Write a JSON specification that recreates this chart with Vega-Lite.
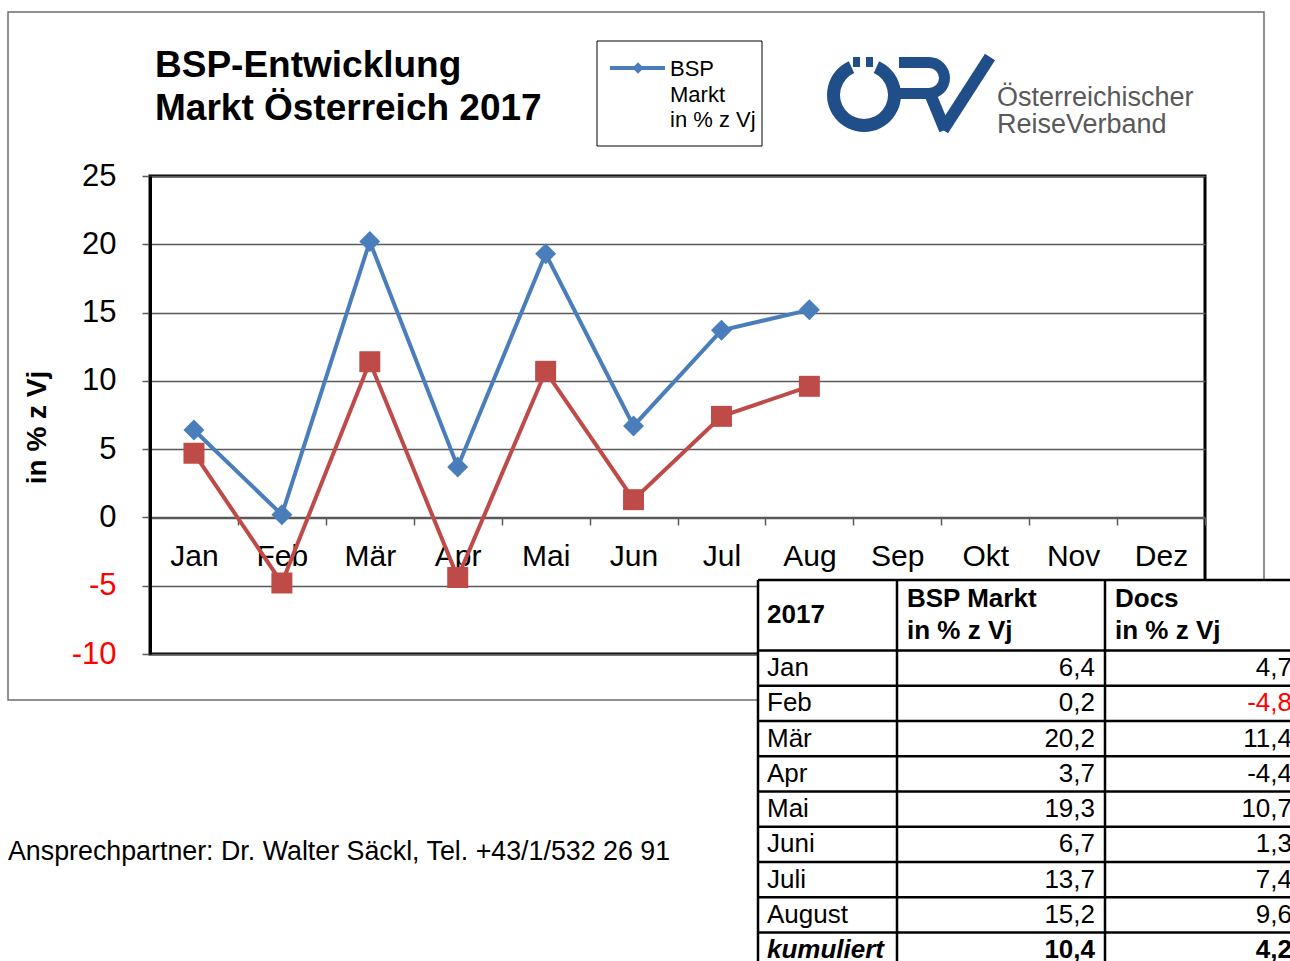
{
  "$schema": "https://vega.github.io/schema/vega-lite/v6.json",
  "autosize": "none",
  "width": 1055,
  "height": 478,
  "padding": {"left": 150, "top": 176, "right": 85, "bottom": 307},
  "background": "white",
  "config": {
    "font": "Liberation Sans",
    "view": {"stroke": "black", "strokeWidth": 3},
    "locale": {"number": {"decimal": ",", "thousands": ".", "grouping": [3], "currency": ["", " €"], "minus": "-"}}
  },
  "datasets": {
    "werte": [
      {"monat": "Jan", "zeile": "Jan", "bsp": 6.4, "docs": 4.7},
      {"monat": "Feb", "zeile": "Feb", "bsp": 0.2, "docs": -4.8},
      {"monat": "Mär", "zeile": "Mär", "bsp": 20.2, "docs": 11.4},
      {"monat": "Apr", "zeile": "Apr", "bsp": 3.7, "docs": -4.4},
      {"monat": "Mai", "zeile": "Mai", "bsp": 19.3, "docs": 10.7},
      {"monat": "Jun", "zeile": "Juni", "bsp": 6.7, "docs": 1.3},
      {"monat": "Jul", "zeile": "Juli", "bsp": 13.7, "docs": 7.4},
      {"monat": "Aug", "zeile": "August", "bsp": 15.2, "docs": 9.6},
      {"monat": null, "zeile": "kumuliert", "bsp": 10.4, "docs": 4.2}
    ]
  },
  "layer": [
    {
      "data": {"name": "werte"},
      "transform": [
        {"filter": "datum.monat != null"},
        {"fold": ["bsp", "docs"], "as": ["reihe", "wert"]}
      ],
      "encoding": {
        "x": {"field": "monat", "type": "ordinal",
          "scale": {"type": "band", "domain": ["Jan", "Feb", "Mär", "Apr", "Mai", "Jun", "Jul", "Aug", "Sep", "Okt", "Nov", "Dez"], "paddingInner": 0, "paddingOuter": 0},
          "axis": {"title": null, "offset": -136, "tickBand": "extent", "tickSize": 7, "tickWidth": 1.5, "tickColor": "#595959", "domainColor": "#595959", "domainWidth": 1.5, "labelFontSize": 30, "labelColor": "black", "labelPadding": 16, "labelAngle": 0, "grid": false}},
        "y": {"field": "wert", "type": "quantitative",
          "scale": {"domain": [-10, 25], "nice": false, "zero": false},
          "axis": {"title": "in % z Vj", "values": [-10, -5, 0, 5, 10, 15, 20, 25], "grid": true, "gridColor": "#595959", "gridWidth": 1.5, "domainColor": "black", "domainWidth": 3, "tickColor": "#595959", "tickWidth": 1.5, "tickSize": 8, "labelFontSize": 31, "labelPadding": 26, "labelColor": {"condition": {"test": "datum.value < 0", "value": "#ff0000"}, "value": "black"}, "titleFontSize": 28, "titleFontWeight": "bold", "titleColor": "black", "titleX": -113, "titleY": 251, "titleAngle": -90, "titleAlign": "center", "titleBaseline": "middle"}},
        "color": {"field": "reihe", "type": "nominal", "scale": {"domain": ["bsp", "docs"], "range": ["#4a7ebb", "#be4b48"]}, "legend": null}
      },
      "layer": [
        {"mark": {"type": "line", "strokeWidth": 4}},
        {"mark": {"type": "point", "filled": true, "opacity": 1, "size": 440},
          "encoding": {"shape": {"field": "reihe", "type": "nominal", "scale": {"domain": ["bsp", "docs"], "range": ["diamond", "square"]}, "legend": null}}}
      ]
    },
    {
      "data": {"values": [{}]},
      "layer": [
        {"mark": {"type": "rect", "fillOpacity": 0, "stroke": "#6d6d6d", "strokeWidth": 1.5},
          "encoding": {"x": {"datum": 8, "type": "quantitative", "scale": {"type": "linear", "domain": [0, 1290], "range": [-150, 1140], "nice": false, "zero": false}, "axis": null}, "x2": {"datum": 1264},
            "y": {"datum": 12, "type": "quantitative", "scale": {"type": "linear", "domain": [0, 961], "range": [-176, 785], "nice": false, "zero": false}, "axis": null}, "y2": {"datum": 700}}},
        {"mark": {"type": "rect", "fill": "white", "strokeWidth": 0},
          "encoding": {"x": {"datum": 758, "type": "quantitative", "scale": {"type": "linear", "domain": [0, 1290], "range": [-150, 1140], "nice": false, "zero": false}, "axis": null}, "x2": {"datum": 1300},
            "y": {"datum": 580, "type": "quantitative", "scale": {"type": "linear", "domain": [0, 961], "range": [-176, 785], "nice": false, "zero": false}, "axis": null}, "y2": {"datum": 980}}},
        {"mark": {"type": "text", "text": ["BSP-Entwicklung", "Markt Österreich 2017"], "fontSize": 37, "fontWeight": "bold", "align": "left", "baseline": "alphabetic", "lineHeight": 43, "color": "black"},
          "encoding": {"x": {"datum": 155, "type": "quantitative", "scale": {"type": "linear", "domain": [0, 1290], "range": [-150, 1140], "nice": false, "zero": false}, "axis": null},
            "y": {"datum": 77, "type": "quantitative", "scale": {"type": "linear", "domain": [0, 961], "range": [-176, 785], "nice": false, "zero": false}, "axis": null}}},
        {"mark": {"type": "rect", "fillOpacity": 0, "stroke": "black", "strokeWidth": 1},
          "encoding": {"x": {"datum": 597, "type": "quantitative", "scale": {"type": "linear", "domain": [0, 1290], "range": [-150, 1140], "nice": false, "zero": false}, "axis": null}, "x2": {"datum": 762},
            "y": {"datum": 41, "type": "quantitative", "scale": {"type": "linear", "domain": [0, 961], "range": [-176, 785], "nice": false, "zero": false}, "axis": null}, "y2": {"datum": 146}}},
        {"mark": {"type": "rule", "color": "#4a7ebb", "strokeWidth": 4},
          "encoding": {"x": {"datum": 610, "type": "quantitative", "scale": {"type": "linear", "domain": [0, 1290], "range": [-150, 1140], "nice": false, "zero": false}, "axis": null}, "x2": {"datum": 665},
            "y": {"datum": 68, "type": "quantitative", "scale": {"type": "linear", "domain": [0, 961], "range": [-176, 785], "nice": false, "zero": false}, "axis": null}}},
        {"mark": {"type": "point", "shape": "diamond", "size": 130, "filled": true, "opacity": 1, "color": "#4a7ebb"},
          "encoding": {"x": {"datum": 638, "type": "quantitative", "scale": {"type": "linear", "domain": [0, 1290], "range": [-150, 1140], "nice": false, "zero": false}, "axis": null},
            "y": {"datum": 68, "type": "quantitative", "scale": {"type": "linear", "domain": [0, 961], "range": [-176, 785], "nice": false, "zero": false}, "axis": null}}},
        {"mark": {"type": "text", "text": ["BSP", "Markt", "in % z Vj"], "fontSize": 22, "align": "left", "baseline": "alphabetic", "lineHeight": 25.5, "color": "black"},
          "encoding": {"x": {"datum": 670, "type": "quantitative", "scale": {"type": "linear", "domain": [0, 1290], "range": [-150, 1140], "nice": false, "zero": false}, "axis": null},
            "y": {"datum": 76, "type": "quantitative", "scale": {"type": "linear", "domain": [0, 961], "range": [-176, 785], "nice": false, "zero": false}, "axis": null}}},
        {"mark": {"type": "arc", "radius": 37, "radius2": 24, "theta": 0.42, "theta2": 5.86, "color": "#1f4e89"},
          "encoding": {"x": {"datum": 864, "type": "quantitative", "scale": {"type": "linear", "domain": [0, 1290], "range": [-150, 1140], "nice": false, "zero": false}, "axis": null},
            "y": {"datum": 95, "type": "quantitative", "scale": {"type": "linear", "domain": [0, 961], "range": [-176, 785], "nice": false, "zero": false}, "axis": null}}},
        {"mark": {"type": "rect", "color": "#1f4e89"},
          "encoding": {"x": {"datum": 853, "type": "quantitative", "scale": {"type": "linear", "domain": [0, 1290], "range": [-150, 1140], "nice": false, "zero": false}, "axis": null}, "x2": {"datum": 860},
            "y": {"datum": 57, "type": "quantitative", "scale": {"type": "linear", "domain": [0, 961], "range": [-176, 785], "nice": false, "zero": false}, "axis": null}, "y2": {"datum": 67}}},
        {"mark": {"type": "rect", "color": "#1f4e89"},
          "encoding": {"x": {"datum": 866, "type": "quantitative", "scale": {"type": "linear", "domain": [0, 1290], "range": [-150, 1140], "nice": false, "zero": false}, "axis": null}, "x2": {"datum": 873},
            "y": {"datum": 57, "type": "quantitative", "scale": {"type": "linear", "domain": [0, 961], "range": [-176, 785], "nice": false, "zero": false}, "axis": null}, "y2": {"datum": 67}}},
        {"mark": {"type": "rect", "color": "#1f4e89"},
          "encoding": {"x": {"datum": 899, "type": "quantitative", "scale": {"type": "linear", "domain": [0, 1290], "range": [-150, 1140], "nice": false, "zero": false}, "axis": null}, "x2": {"datum": 929},
            "y": {"datum": 57, "type": "quantitative", "scale": {"type": "linear", "domain": [0, 961], "range": [-176, 785], "nice": false, "zero": false}, "axis": null}, "y2": {"datum": 68}}},
        {"mark": {"type": "rect", "color": "#1f4e89"},
          "encoding": {"x": {"datum": 899, "type": "quantitative", "scale": {"type": "linear", "domain": [0, 1290], "range": [-150, 1140], "nice": false, "zero": false}, "axis": null}, "x2": {"datum": 929},
            "y": {"datum": 88, "type": "quantitative", "scale": {"type": "linear", "domain": [0, 961], "range": [-176, 785], "nice": false, "zero": false}, "axis": null}, "y2": {"datum": 99}}},
        {"mark": {"type": "arc", "radius": 21, "radius2": 10, "theta": 0, "theta2": 3.1416, "color": "#1f4e89"},
          "encoding": {"x": {"datum": 929, "type": "quantitative", "scale": {"type": "linear", "domain": [0, 1290], "range": [-150, 1140], "nice": false, "zero": false}, "axis": null},
            "y": {"datum": 78, "type": "quantitative", "scale": {"type": "linear", "domain": [0, 961], "range": [-176, 785], "nice": false, "zero": false}, "axis": null}}},
        {"mark": {"type": "rule", "color": "#1f4e89", "strokeWidth": 12},
          "encoding": {"x": {"datum": 931, "type": "quantitative", "scale": {"type": "linear", "domain": [0, 1290], "range": [-150, 1140], "nice": false, "zero": false}, "axis": null}, "x2": {"datum": 945},
            "y": {"datum": 96, "type": "quantitative", "scale": {"type": "linear", "domain": [0, 961], "range": [-176, 785], "nice": false, "zero": false}, "axis": null}, "y2": {"datum": 130}}},
        {"mark": {"type": "rule", "color": "#1f4e89", "strokeWidth": 12},
          "encoding": {"x": {"datum": 943, "type": "quantitative", "scale": {"type": "linear", "domain": [0, 1290], "range": [-150, 1140], "nice": false, "zero": false}, "axis": null}, "x2": {"datum": 990},
            "y": {"datum": 130, "type": "quantitative", "scale": {"type": "linear", "domain": [0, 961], "range": [-176, 785], "nice": false, "zero": false}, "axis": null}, "y2": {"datum": 57}}},
        {"mark": {"type": "text", "text": ["Österreichischer", "ReiseVerband"], "fontSize": 27, "align": "left", "baseline": "alphabetic", "lineHeight": 27, "color": "#595959"},
          "encoding": {"x": {"datum": 997, "type": "quantitative", "scale": {"type": "linear", "domain": [0, 1290], "range": [-150, 1140], "nice": false, "zero": false}, "axis": null},
            "y": {"datum": 106, "type": "quantitative", "scale": {"type": "linear", "domain": [0, 961], "range": [-176, 785], "nice": false, "zero": false}, "axis": null}}},
        {"mark": {"type": "text", "text": "Ansprechpartner: Dr. Walter Säckl, Tel. +43/1/532 26 91", "fontSize": 26.8, "align": "left", "baseline": "alphabetic", "color": "black"},
          "encoding": {"x": {"datum": 8, "type": "quantitative", "scale": {"type": "linear", "domain": [0, 1290], "range": [-150, 1140], "nice": false, "zero": false}, "axis": null},
            "y": {"datum": 860, "type": "quantitative", "scale": {"type": "linear", "domain": [0, 961], "range": [-176, 785], "nice": false, "zero": false}, "axis": null}}}
      ]
    },
    {
      "data": {"name": "werte"},
      "layer": [
        {"mark": {"type": "rule", "color": "black", "strokeWidth": 2.5},
          "encoding": {"x": {"datum": 758, "type": "quantitative", "scale": {"type": "linear", "domain": [0, 1290], "range": [-150, 1140], "nice": false, "zero": false}, "axis": null}, "x2": {"datum": 1300},
            "y": {"field": "zeile", "type": "ordinal", "bandPosition": 0, "scale": {"type": "band", "domain": ["H1", "H2", "Jan", "Feb", "Mär", "Apr", "Mai", "Juni", "Juli", "August", "kumuliert", "Ende"], "range": [404, 827], "paddingInner": 0, "paddingOuter": 0}, "axis": null}}},
        {"data": {"values": [{}]},
          "mark": {"type": "rule", "color": "black", "strokeWidth": 2.5},
          "encoding": {"x": {"datum": 758, "type": "quantitative", "scale": {"type": "linear", "domain": [0, 1290], "range": [-150, 1140], "nice": false, "zero": false}, "axis": null}, "x2": {"datum": 1300},
            "y": {"datum": "H1", "type": "ordinal", "bandPosition": 0, "scale": {"type": "band", "domain": ["H1", "H2", "Jan", "Feb", "Mär", "Apr", "Mai", "Juni", "Juli", "August", "kumuliert", "Ende"], "range": [404, 827], "paddingInner": 0, "paddingOuter": 0}, "axis": null}}},
        {"data": {"values": [{}]},
          "mark": {"type": "rule", "color": "black", "strokeWidth": 2.5},
          "encoding": {"x": {"datum": 758, "type": "quantitative", "scale": {"type": "linear", "domain": [0, 1290], "range": [-150, 1140], "nice": false, "zero": false}, "axis": null},
            "y": {"datum": "H1", "type": "ordinal", "bandPosition": 0, "scale": {"type": "band", "domain": ["H1", "H2", "Jan", "Feb", "Mär", "Apr", "Mai", "Juni", "Juli", "August", "kumuliert", "Ende"], "range": [404, 827], "paddingInner": 0, "paddingOuter": 0}, "axis": null}, "y2": {"datum": "Ende"}}},
        {"data": {"values": [{}]},
          "mark": {"type": "rule", "color": "black", "strokeWidth": 2.5},
          "encoding": {"x": {"datum": 897, "type": "quantitative", "scale": {"type": "linear", "domain": [0, 1290], "range": [-150, 1140], "nice": false, "zero": false}, "axis": null},
            "y": {"datum": "H1", "type": "ordinal", "bandPosition": 0, "scale": {"type": "band", "domain": ["H1", "H2", "Jan", "Feb", "Mär", "Apr", "Mai", "Juni", "Juli", "August", "kumuliert", "Ende"], "range": [404, 827], "paddingInner": 0, "paddingOuter": 0}, "axis": null}, "y2": {"datum": "Ende"}}},
        {"data": {"values": [{}]},
          "mark": {"type": "rule", "color": "black", "strokeWidth": 2.5},
          "encoding": {"x": {"datum": 1105, "type": "quantitative", "scale": {"type": "linear", "domain": [0, 1290], "range": [-150, 1140], "nice": false, "zero": false}, "axis": null},
            "y": {"datum": "H1", "type": "ordinal", "bandPosition": 0, "scale": {"type": "band", "domain": ["H1", "H2", "Jan", "Feb", "Mär", "Apr", "Mai", "Juni", "Juli", "August", "kumuliert", "Ende"], "range": [404, 827], "paddingInner": 0, "paddingOuter": 0}, "axis": null}, "y2": {"datum": "Ende"}}},
        {"data": {"values": [{}]},
          "mark": {"type": "text", "text": "2017", "fontSize": 26, "fontWeight": "bold", "align": "left", "baseline": "middle", "color": "black"},
          "encoding": {"x": {"datum": 767, "type": "quantitative", "scale": {"type": "linear", "domain": [0, 1290], "range": [-150, 1140], "nice": false, "zero": false}, "axis": null},
            "y": {"datum": "H1", "type": "ordinal", "bandPosition": 1, "scale": {"type": "band", "domain": ["H1", "H2", "Jan", "Feb", "Mär", "Apr", "Mai", "Juni", "Juli", "August", "kumuliert", "Ende"], "range": [404, 827], "paddingInner": 0, "paddingOuter": 0}, "axis": null}}},
        {"data": {"values": [{}]},
          "mark": {"type": "text", "text": ["BSP Markt", "in % z Vj"], "fontSize": 26, "fontWeight": "bold", "align": "left", "baseline": "middle", "lineHeight": 32, "color": "black"},
          "encoding": {"x": {"datum": 907, "type": "quantitative", "scale": {"type": "linear", "domain": [0, 1290], "range": [-150, 1140], "nice": false, "zero": false}, "axis": null},
            "y": {"datum": "H1", "type": "ordinal", "bandPosition": 0.55, "scale": {"type": "band", "domain": ["H1", "H2", "Jan", "Feb", "Mär", "Apr", "Mai", "Juni", "Juli", "August", "kumuliert", "Ende"], "range": [404, 827], "paddingInner": 0, "paddingOuter": 0}, "axis": null}}},
        {"data": {"values": [{}]},
          "mark": {"type": "text", "text": ["Docs", "in % z Vj"], "fontSize": 26, "fontWeight": "bold", "align": "left", "baseline": "middle", "lineHeight": 32, "color": "black"},
          "encoding": {"x": {"datum": 1115, "type": "quantitative", "scale": {"type": "linear", "domain": [0, 1290], "range": [-150, 1140], "nice": false, "zero": false}, "axis": null},
            "y": {"datum": "H1", "type": "ordinal", "bandPosition": 0.55, "scale": {"type": "band", "domain": ["H1", "H2", "Jan", "Feb", "Mär", "Apr", "Mai", "Juni", "Juli", "August", "kumuliert", "Ende"], "range": [404, 827], "paddingInner": 0, "paddingOuter": 0}, "axis": null}}},
        {"transform": [{"filter": "datum.zeile != 'kumuliert'"}],
          "mark": {"type": "text", "fontSize": 26, "align": "left", "baseline": "middle", "color": "black"},
          "encoding": {"text": {"field": "zeile"},
            "x": {"datum": 767, "type": "quantitative", "scale": {"type": "linear", "domain": [0, 1290], "range": [-150, 1140], "nice": false, "zero": false}, "axis": null},
            "y": {"field": "zeile", "type": "ordinal", "scale": {"type": "band", "domain": ["H1", "H2", "Jan", "Feb", "Mär", "Apr", "Mai", "Juni", "Juli", "August", "kumuliert", "Ende"], "range": [404, 827], "paddingInner": 0, "paddingOuter": 0}, "axis": null}}},
        {"transform": [{"filter": "datum.zeile != 'kumuliert'"}],
          "mark": {"type": "text", "fontSize": 26, "align": "right", "baseline": "middle", "color": "black"},
          "encoding": {"text": {"field": "bsp", "type": "quantitative", "format": ".1f"},
            "x": {"datum": 1095, "type": "quantitative", "scale": {"type": "linear", "domain": [0, 1290], "range": [-150, 1140], "nice": false, "zero": false}, "axis": null},
            "y": {"field": "zeile", "type": "ordinal", "scale": {"type": "band", "domain": ["H1", "H2", "Jan", "Feb", "Mär", "Apr", "Mai", "Juni", "Juli", "August", "kumuliert", "Ende"], "range": [404, 827], "paddingInner": 0, "paddingOuter": 0}, "axis": null}}},
        {"transform": [{"filter": "datum.zeile != 'kumuliert'"}],
          "mark": {"type": "text", "fontSize": 26, "align": "right", "baseline": "middle"},
          "encoding": {"text": {"field": "docs", "type": "quantitative", "format": ".1f"},
            "color": {"condition": {"test": "datum.zeile == 'Feb'", "value": "#ff0000"}, "value": "black"},
            "x": {"datum": 1292, "type": "quantitative", "scale": {"type": "linear", "domain": [0, 1290], "range": [-150, 1140], "nice": false, "zero": false}, "axis": null},
            "y": {"field": "zeile", "type": "ordinal", "scale": {"type": "band", "domain": ["H1", "H2", "Jan", "Feb", "Mär", "Apr", "Mai", "Juni", "Juli", "August", "kumuliert", "Ende"], "range": [404, 827], "paddingInner": 0, "paddingOuter": 0}, "axis": null}}},
        {"transform": [{"filter": "datum.zeile == 'kumuliert'"}],
          "mark": {"type": "text", "fontSize": 26, "fontWeight": "bold", "fontStyle": "italic", "align": "left", "baseline": "middle", "color": "black"},
          "encoding": {"text": {"field": "zeile"},
            "x": {"datum": 767, "type": "quantitative", "scale": {"type": "linear", "domain": [0, 1290], "range": [-150, 1140], "nice": false, "zero": false}, "axis": null},
            "y": {"field": "zeile", "type": "ordinal", "scale": {"type": "band", "domain": ["H1", "H2", "Jan", "Feb", "Mär", "Apr", "Mai", "Juni", "Juli", "August", "kumuliert", "Ende"], "range": [404, 827], "paddingInner": 0, "paddingOuter": 0}, "axis": null}}},
        {"transform": [{"filter": "datum.zeile == 'kumuliert'"}],
          "mark": {"type": "text", "fontSize": 26, "fontWeight": "bold", "align": "right", "baseline": "middle", "color": "black"},
          "encoding": {"text": {"field": "bsp", "type": "quantitative", "format": ".1f"},
            "x": {"datum": 1095, "type": "quantitative", "scale": {"type": "linear", "domain": [0, 1290], "range": [-150, 1140], "nice": false, "zero": false}, "axis": null},
            "y": {"field": "zeile", "type": "ordinal", "scale": {"type": "band", "domain": ["H1", "H2", "Jan", "Feb", "Mär", "Apr", "Mai", "Juni", "Juli", "August", "kumuliert", "Ende"], "range": [404, 827], "paddingInner": 0, "paddingOuter": 0}, "axis": null}}},
        {"transform": [{"filter": "datum.zeile == 'kumuliert'"}],
          "mark": {"type": "text", "fontSize": 26, "fontWeight": "bold", "align": "right", "baseline": "middle", "color": "black"},
          "encoding": {"text": {"field": "docs", "type": "quantitative", "format": ".1f"},
            "x": {"datum": 1292, "type": "quantitative", "scale": {"type": "linear", "domain": [0, 1290], "range": [-150, 1140], "nice": false, "zero": false}, "axis": null},
            "y": {"field": "zeile", "type": "ordinal", "scale": {"type": "band", "domain": ["H1", "H2", "Jan", "Feb", "Mär", "Apr", "Mai", "Juni", "Juli", "August", "kumuliert", "Ende"], "range": [404, 827], "paddingInner": 0, "paddingOuter": 0}, "axis": null}}}
      ]
    }
  ],
  "resolve": {"scale": {"x": "independent", "y": "independent"}}
}
